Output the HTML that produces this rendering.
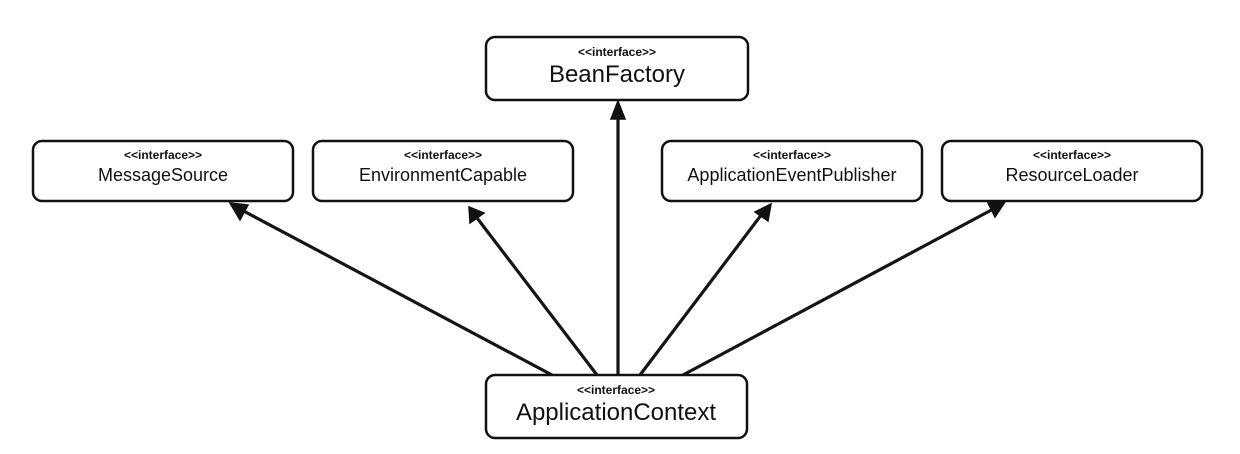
<!DOCTYPE html>
<html><head><meta charset="utf-8"><style>
html,body{margin:0;padding:0;background:#fff;}
svg{display:block}
text{font-family:"Liberation Sans",Arial,sans-serif;fill:#111;text-anchor:middle}
.s{font-size:12px;font-weight:bold}
.b{font-size:18px}
.l{font-size:24px}
rect{fill:#fff;stroke:#111;stroke-width:2.5}
line{stroke:#151515;stroke-width:3.2}
polygon{fill:#111;stroke:#111;stroke-width:1.5}
</style></head><body>
<svg width="1240" height="454" viewBox="0 0 1240 454">
<g>
<line x1="552" y1="375" x2="238" y2="208"/>
<line x1="597" y1="375" x2="474" y2="214"/>
<line x1="618" y1="375" x2="618" y2="110"/>
<line x1="640" y1="375" x2="765" y2="210"/>
<line x1="683" y1="375" x2="997" y2="207"/>
<polygon points="230,203 248,205 240,220"/>
<polygon points="469,207 484,213 470,223"/>
<polygon points="618,101 625,119 611,119"/>
<polygon points="771,204 768,221 755,212"/>
<polygon points="1005,202 995,217 988,203"/>
</g>
<rect x="486" y="37" width="262" height="63" rx="9"/>
<text class="s" x="617" y="56">&lt;&lt;interface&gt;&gt;</text>
<text class="l" x="617" y="82">BeanFactory</text>

<rect x="33" y="141" width="260" height="60" rx="9"/>
<text class="s" x="163" y="159">&lt;&lt;interface&gt;&gt;</text>
<text class="b" x="163" y="181">MessageSource</text>

<rect x="313" y="141" width="260" height="60" rx="9"/>
<text class="s" x="443" y="159">&lt;&lt;interface&gt;&gt;</text>
<text class="b" x="443" y="181">EnvironmentCapable</text>

<rect x="662" y="141" width="260" height="60" rx="9"/>
<text class="s" x="792" y="159">&lt;&lt;interface&gt;&gt;</text>
<text class="b" x="792" y="181">ApplicationEventPublisher</text>

<rect x="942" y="141" width="260" height="60" rx="9"/>
<text class="s" x="1072" y="159">&lt;&lt;interface&gt;&gt;</text>
<text class="b" x="1072" y="181">ResourceLoader</text>

<rect x="486" y="375" width="261" height="63" rx="9"/>
<text class="s" x="616" y="394">&lt;&lt;interface&gt;&gt;</text>
<text class="l" x="616" y="420">ApplicationContext</text>
</svg>
</body></html>
